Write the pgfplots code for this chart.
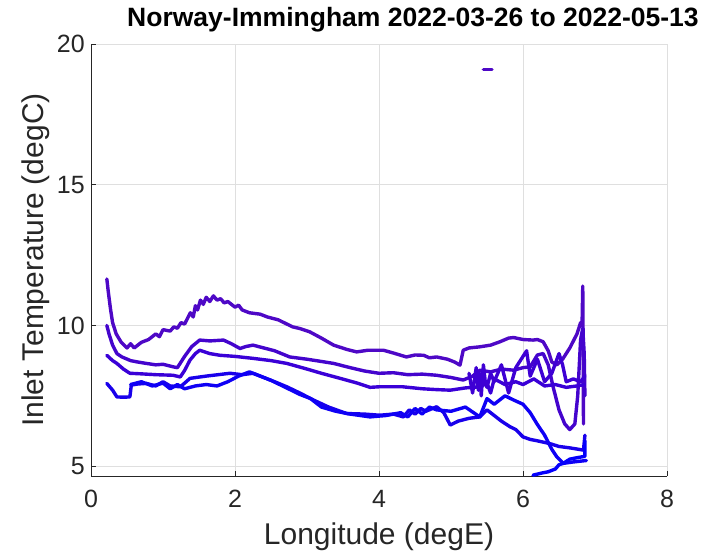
\documentclass[border=0pt]{standalone}
\usepackage{pgfplots}
\pgfplotsset{compat=1.18}
\usepackage{fontspec}
\setmainfont{Liberation Sans}
\definecolor{mgray}{RGB}{38,38,38}
\definecolor{gridc}{RGB}{223,223,223}
\definecolor{cA}{RGB}{78,8,198}
\definecolor{cB}{RGB}{68,4,205}
\definecolor{cC}{RGB}{58,0,215}
\definecolor{cG}{RGB}{62,0,212}
\definecolor{cD}{RGB}{25,0,235}
\definecolor{cE}{RGB}{15,0,245}
\definecolor{cF}{RGB}{5,0,252}
\begin{document}
\begin{tikzpicture}
\begin{axis}[
  scale only axis, width=576bp, height=432bp,
  xmin=0, xmax=8, ymin=4.65, ymax=20,
  xtick={0,2,4,6,8}, ytick={5,10,15,20},
  axis x line*=bottom, axis y line*=left,
  axis line style={mgray, line width=0.8bp},
  grid=major, major grid style={gridc, line width=0.8bp},
  tick align=inside, major tick length=5bp, tick style={mgray, line width=0.8bp},
  /pgf/number format/assume math mode=true,
  tick label style={font=\fontsize{25bp}{29bp}\selectfont, text=mgray},
  xticklabel style={yshift=-11bp},
  yticklabel style={xshift=-2.7bp},
  label style={font=\fontsize{30bp}{34bp}\selectfont, text=mgray},
  xlabel={Longitude (degE)}, ylabel={Inlet Temperature (degC)},
  xlabel style={at={(axis description cs:0.5,-0.1597)}, anchor=base},
  ylabel style={at={(axis description cs:-0.0825,0.5)}, anchor=base},
  title={Norway-Immingham 2022-03-26 to 2022-05-13},
  title style={font=\fontsize{26.5bp}{30bp}\selectfont\bfseries, at={(0.559,1)}, anchor=base, yshift=12bp},
  every axis plot/.append style={line width=3.4bp, line join=round, line cap=round},
  clip=true,
]
\coordinate (SW) at (rel axis cs:0,0);
\coordinate (NE) at (rel axis cs:1,1);
\addplot[cA] coordinates {
(0.22,11.65)(0.24,11.2)(0.27,10.6)(0.30,10.1)(0.35,9.7)(0.42,9.4)(0.50,9.2)(0.55,9.35)(0.60,9.2)(0.70,9.4)
(0.80,9.5)(0.90,9.7)(0.95,9.6)(1.00,9.85)(1.10,9.8)(1.15,9.95)(1.20,9.9)(1.25,10.1)(1.30,10.05)(1.35,10.3)(1.38,10.45)(1.42,10.3)(1.45,10.7)(1.48,10.55)(1.52,10.9)(1.56,10.75)(1.60,11.0)
(1.65,10.85)(1.70,11.05)(1.75,10.9)(1.80,10.95)(1.85,10.8)(1.90,10.85)(2.00,10.65)(2.05,10.72)(2.10,10.55)(2.20,10.45)(2.35,10.4)(2.45,10.3)(2.60,10.2)
(2.80,9.95)(2.90,9.89)(3.04,9.77)(3.20,9.55)(3.37,9.3)(3.55,9.15)(3.69,9.06)(3.85,9.12)(4.06,9.12)(4.20,9.02)(4.38,8.88)(4.50,8.95)(4.62,8.94)
(4.70,8.85)(4.80,8.88)(4.95,8.8)(5.05,8.7)(5.125,8.59)(5.17,9.12)(5.25,9.2)(5.40,9.24)(5.55,9.3)(5.68,9.42)(5.80,9.55)
(5.87,9.57)(6.0,9.5)(6.14,9.48)(6.20,9.5)(6.28,9.42)(6.35,9.1)(6.40,8.7)(6.47,8.6)(6.55,8.8)(6.65,9.2)(6.75,9.7)
(6.80,10.1)(6.82,10.0)(6.83,11.4)(6.835,9.5)(6.84,6.5)
};
\addplot[cB] coordinates {
(0.22,10.0)(0.25,9.7)(0.30,9.3)(0.36,9.0)(0.43,8.88)(0.55,8.75)(0.65,8.7)(0.77,8.65)(0.90,8.6)(1.00,8.62)
(1.14,8.53)(1.20,8.5)(1.24,8.66)(1.30,8.9)(1.40,9.25)(1.51,9.48)(1.65,9.45)(1.84,9.48)(1.95,9.35)(2.07,9.18)
(2.15,9.25)(2.25,9.3)(2.40,9.2)(2.55,9.1)(2.76,8.88)(3.0,8.8)(3.2,8.72)(3.37,8.65)(3.6,8.5)(3.8,8.38)
(4.0,8.3)(4.2,8.32)(4.4,8.25)(4.6,8.27)(4.8,8.23)(5.0,8.15)(5.17,8.06)(5.3,8.2)(5.4,8.41)(5.55,8.35)
(5.7,8.45)(5.87,8.41)(6.0,8.5)(6.1,8.53)(6.2,8.95)(6.28,9.0)(6.35,8.6)(6.42,7.8)(6.5,7.0)(6.58,6.5)
(6.65,6.3)(6.72,6.5)(6.76,7.5)(6.78,8.5)(6.80,9.5)(6.83,9.9)(6.85,9.0)(6.86,7.5)
};
\addplot[cC] coordinates {
(0.22,8.94)(0.30,8.75)(0.36,8.65)(0.45,8.45)(0.54,8.3)(0.7,8.28)(0.9,8.25)(1.14,8.23)(1.24,8.17)(1.3,8.4)
(1.375,8.77)(1.45,9.0)(1.51,9.12)(1.65,9.0)(1.79,8.94)(2.0,8.9)(2.25,8.83)(2.5,8.75)(2.72,8.65)(3.0,8.45)
(3.2,8.3)(3.46,8.12)(3.7,7.95)(3.875,7.8)(4.0,7.82)(4.33,7.82)(4.6,7.75)(4.8,7.72)(4.99,7.7)(5.2,7.78)
(5.4,7.82)(5.5,7.95)(5.55,7.6)(5.6,8.1)(5.75,7.9)(5.9,8.0)(6.0,7.9)(6.15,8.1)(6.3,7.85)(6.45,7.9)
(6.6,7.8)(6.75,7.85)(6.85,7.9)
};
\addplot[cG] coordinates {
(5.25,8.3)(5.3,7.6)(5.35,8.5)(5.38,7.7)(5.4,8.3)(5.42,7.5)(5.45,8.6)(5.48,7.9)(5.5,7.8)(5.55,8.3)(5.6,8.0)(5.7,8.6)(5.8,7.6)
(5.9,8.5)(6.0,8.9)(6.05,9.1)(6.1,8.2)(6.2,8.8)(6.3,8.0)(6.4,8.3)(6.5,9.0)(6.55,8.6)(6.6,8.0)
(6.7,8.1)(6.8,8.0)(6.86,8.2)
};
\addplot[cD] coordinates {
(0.22,7.94)(0.30,7.7)(0.36,7.46)(0.45,7.45)(0.54,7.46)(0.56,7.88)(0.65,7.92)(0.77,7.94)(0.9,7.85)(1.0,8.0)
(1.1,7.85)(1.24,7.82)(1.3,7.95)(1.375,8.12)(1.6,8.2)(1.93,8.3)(2.1,8.25)(2.25,8.3)(2.4,8.15)(2.55,8.0)
(2.72,7.82)(2.9,7.6)(3.09,7.35)(3.3,7.1)(3.55,6.87)(3.8,6.85)(4.01,6.81)(4.2,6.85)(4.34,6.75)(4.42,7.0)(4.5,6.85)(4.58,7.05)
(4.65,6.95)(4.8,7.11)(4.9,6.9)(4.99,6.46)(5.1,6.6)(5.25,6.7)(5.4,6.75)(5.5,7.0)(5.6,6.8)(5.7,6.6)
(5.82,6.4)(5.9,6.3)(6.0,6.04)(6.1,5.95)(6.2,5.9)(6.375,5.8)(6.5,5.7)(6.65,5.65)(6.84,5.57)(6.86,6.1)
};
\addplot[cE] coordinates {
(0.55,7.9)(0.7,8.0)(0.85,7.85)(1.0,7.95)(1.1,7.75)(1.2,7.9)(1.3,7.75)(1.45,7.85)(1.6,7.9)(1.75,7.85)
(1.9,8.0)(2.05,8.2)(2.2,8.35)(2.3,8.25)(2.5,8.05)(2.7,7.8)(2.9,7.55)(3.05,7.4)(3.2,7.1)(3.4,6.95)
(3.6,6.85)(3.875,6.75)(4.1,6.8)(4.3,6.9)(4.4,6.75)(4.5,7.05)(4.6,6.85)(4.7,7.1)(4.8,7.0)(5.0,6.95)(5.2,7.1)(5.4,6.75)(5.5,7.4)
(5.6,7.2)(5.75,7.5)(5.87,7.35)(6.0,7.2)(6.1,6.9)(6.19,6.52)(6.3,6.1)(6.4,5.6)(6.47,5.33)(6.56,5.1)
(6.7,5.15)(6.88,5.2)
};
\addplot[cF] coordinates {
(6.14,4.68)(6.25,4.75)(6.35,4.8)(6.45,4.9)(6.5,5.05)(6.56,5.1)(6.65,5.25)(6.75,5.3)(6.86,5.35)(6.86,5.9)
};
\addplot[cA] coordinates {(5.45,19.1)(5.57,19.1)};
\end{axis}
\pgfresetboundingbox
\path[use as bounding box] ([shift={(-91bp,-82bp)}]SW) rectangle ([shift={(41bp,44bp)}]NE);
\end{tikzpicture}
\end{document}
